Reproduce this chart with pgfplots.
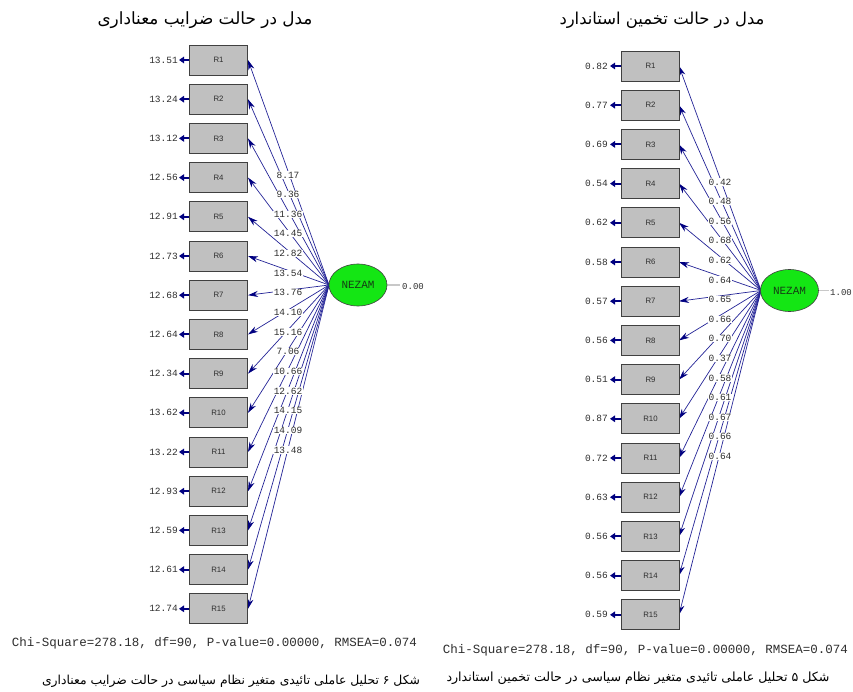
\documentclass[border=0pt]{standalone}
\usepackage{fontspec}
\usepackage{graphicx}
\usepackage{pgfplots}
\pgfplotsset{compat=1.18}
\usepackage{pgfplotstable}
\usetikzlibrary{arrows.meta,shapes.geometric}
\TeXXeTstate=1
\newfontfamily\arabicfont[Script=Arabic]{DejaVu Sans}
\newfontfamily\monofont{Liberation Mono}
\newfontfamily\sansfontx{Liberation Sans}
\definecolor{pathcol}{RGB}{35,35,150}
\definecolor{navyc}{RGB}{0,0,128}
\definecolor{boxfill}{RGB}{192,192,192}
\definecolor{boxdraw}{RGB}{64,64,64}
\definecolor{latgreen}{RGB}{20,230,20}
\definecolor{txt}{RGB}{45,45,45}
\definecolor{nezamtxt}{RGB}{20,60,20}
\definecolor{lgray}{RGB}{200,200,200}

\pgfplotstableread{
name yl errl lab ylab yr errr labr ylabr
R1 60.0 13.51 8.17 175.0 66.0 0.82 0.42 182.0
R2 99.2 13.24 9.36 194.6 105.2 0.77 0.48 201.6
R3 138.4 13.12 11.36 214.3 144.4 0.69 0.56 221.2
R4 177.6 12.56 14.45 233.9 183.6 0.54 0.68 240.8
R5 216.8 12.91 12.82 253.6 222.8 0.62 0.62 260.4
R6 256.0 12.73 13.54 273.2 262.0 0.58 0.64 280.0
R7 295.2 12.68 13.76 292.8 301.2 0.57 0.65 299.6
R8 334.4 12.64 14.10 312.5 340.4 0.56 0.66 319.2
R9 373.6 12.34 15.16 332.1 379.6 0.51 0.70 338.8
R10 412.8 13.62 7.06 351.8 418.8 0.87 0.37 358.4
R11 452.0 13.22 10.66 371.4 458.0 0.72 0.58 378.0
R12 491.2 12.93 12.62 391.0 497.2 0.63 0.61 397.6
R13 530.4 12.59 14.15 410.7 536.4 0.56 0.67 417.2
R14 569.6 12.61 14.09 430.3 575.6 0.56 0.66 436.8
R15 608.8 12.74 13.48 450.0 614.8 0.59 0.64 456.4
}\data

\pgfplotsset{
  boxnodes/.style={draw=none, mark=none, point meta=explicit symbolic, nodes near coords,
    every node near coord/.style={anchor=center, draw=boxdraw, line width=0.9pt, fill=boxfill,
      minimum width=58pt, minimum height=30pt, inner sep=0pt,
      font=\sansfontx\fontsize{7.8}{9}\selectfont, text=txt}},
  numleft/.style={draw=none, mark=none, point meta=explicit symbolic, nodes near coords,
    every node near coord/.style={anchor=east, inner sep=0pt,
      font=\monofont\fontsize{9.5}{10}\selectfont, text=txt}},
  numcenter/.style={draw=none, mark=none, point meta=explicit symbolic, nodes near coords,
    every node near coord/.style={anchor=center, inner sep=0.4pt, fill=white,
      font=\monofont\fontsize{9.5}{10}\selectfont, text=txt}},
  latnode/.style={draw=none, mark=none, point meta=explicit symbolic, nodes near coords,
    every node near coord/.style={anchor=center, ellipse, draw=boxdraw, line width=0.6pt, fill=latgreen,
      minimum width=58pt, minimum height=42pt, inner sep=0pt,
      font=\monofont\fontsize{11}{12}\selectfont, text=nezamtxt}},
  numright/.style={draw=none, mark=none, point meta=explicit symbolic, nodes near coords,
    every node near coord/.style={anchor=west, inner sep=0pt,
      font=\monofont\fontsize{9}{10}\selectfont, text=txt}},
}

\begin{document}
\begin{tikzpicture}
\path[use as bounding box] (0,0) rectangle (853pt,692pt);
\begin{axis}[at={(0,0)}, anchor=south west, width=853pt, height=692pt, scale only axis,
  xmin=0, xmax=853, ymin=0, ymax=692, y dir=reverse, hide axis, clip=false]

% ---- left diagram: paths
\addplot[pathcol, line width=0.7pt, -{Stealth[length=10pt,width=6pt,color=navyc]},
  quiver={u=-81, v=\thisrow{yl}-285}] table[x expr=329, y expr=285] {\data};
% error arrows
\addplot[navyc, line width=2pt, -{Triangle[length=5pt,width=6.5pt]},
  quiver={u=-10, v=0}] table[x expr=189, y=yl] {\data};
% boxes
\addplot[boxnodes] table[x expr=218.5, y=yl, meta=name] {\data};
% latent
\addplot[lgray, line width=1.5pt] coordinates {(387,285) (400,285)};
\addplot[latnode] coordinates {(358,285) [NEZAM]};
\addplot[numright] coordinates {(402,287) [0.00]};
% numbers
\addplot[numleft] table[x expr=178, y=yl, meta=errl] {\data};
\addplot[numcenter] table[x expr=288, y=ylab, meta=lab] {\data};

% ---- right diagram
\addplot[pathcol, line width=0.7pt, -{Stealth[length=10pt,width=6pt,color=navyc]},
  quiver={u=-82, v=\thisrow{yr}-290.5}] table[x expr=761, y expr=290.5] {\data};
\addplot[navyc, line width=2pt, -{Triangle[length=5pt,width=6.5pt]},
  quiver={u=-12, v=0}] table[x expr=622, y=yr] {\data};
\addplot[boxnodes] table[x expr=650.5, y=yr, meta=name] {\data};
\addplot[lgray, line width=1.5pt] coordinates {(818,290.5) (829,290.5)};
\addplot[latnode] coordinates {(789.5,290.5) [NEZAM]};
\addplot[numright] coordinates {(830,293) [1.00]};
\addplot[numleft] table[x expr=608, y=yr, meta=errr] {\data};
\addplot[numcenter] table[x expr=720, y=ylabr, meta=labr] {\data};

% ---- titles and captions
\node[text=black] at (axis cs:205,20) {\resizebox{215pt}{!}{\arabicfont\beginR مدل در حالت ضرایب معناداری\endR}};
\node[text=black] at (axis cs:662,20) {\resizebox{205pt}{!}{\arabicfont\beginR مدل در حالت تخمین استاندارد\endR}};
\node[font=\monofont\fontsize{12.5}{14}\selectfont, text=txt] at (axis cs:214.5,643) {Chi-Square=278.18, df=90, P-value=0.00000, RMSEA=0.074};
\node[font=\monofont\fontsize{12.5}{14}\selectfont, text=txt] at (axis cs:645.5,650) {Chi-Square=278.18, df=90, P-value=0.00000, RMSEA=0.074};
\node[text=black] at (axis cs:231,681) {\resizebox{378pt}{!}{\arabicfont\beginR شکل ۶ تحلیل عاملی تائیدی متغیر نظام سیاسی در حالت ضرایب معناداری\endR}};
\node[text=black] at (axis cs:638,678) {\resizebox{383pt}{!}{\arabicfont\beginR شکل ۵ تحلیل عاملی تائیدی متغیر نظام سیاسی در حالت تخمین استاندارد\endR}};
\end{axis}
\end{tikzpicture}
\end{document}
